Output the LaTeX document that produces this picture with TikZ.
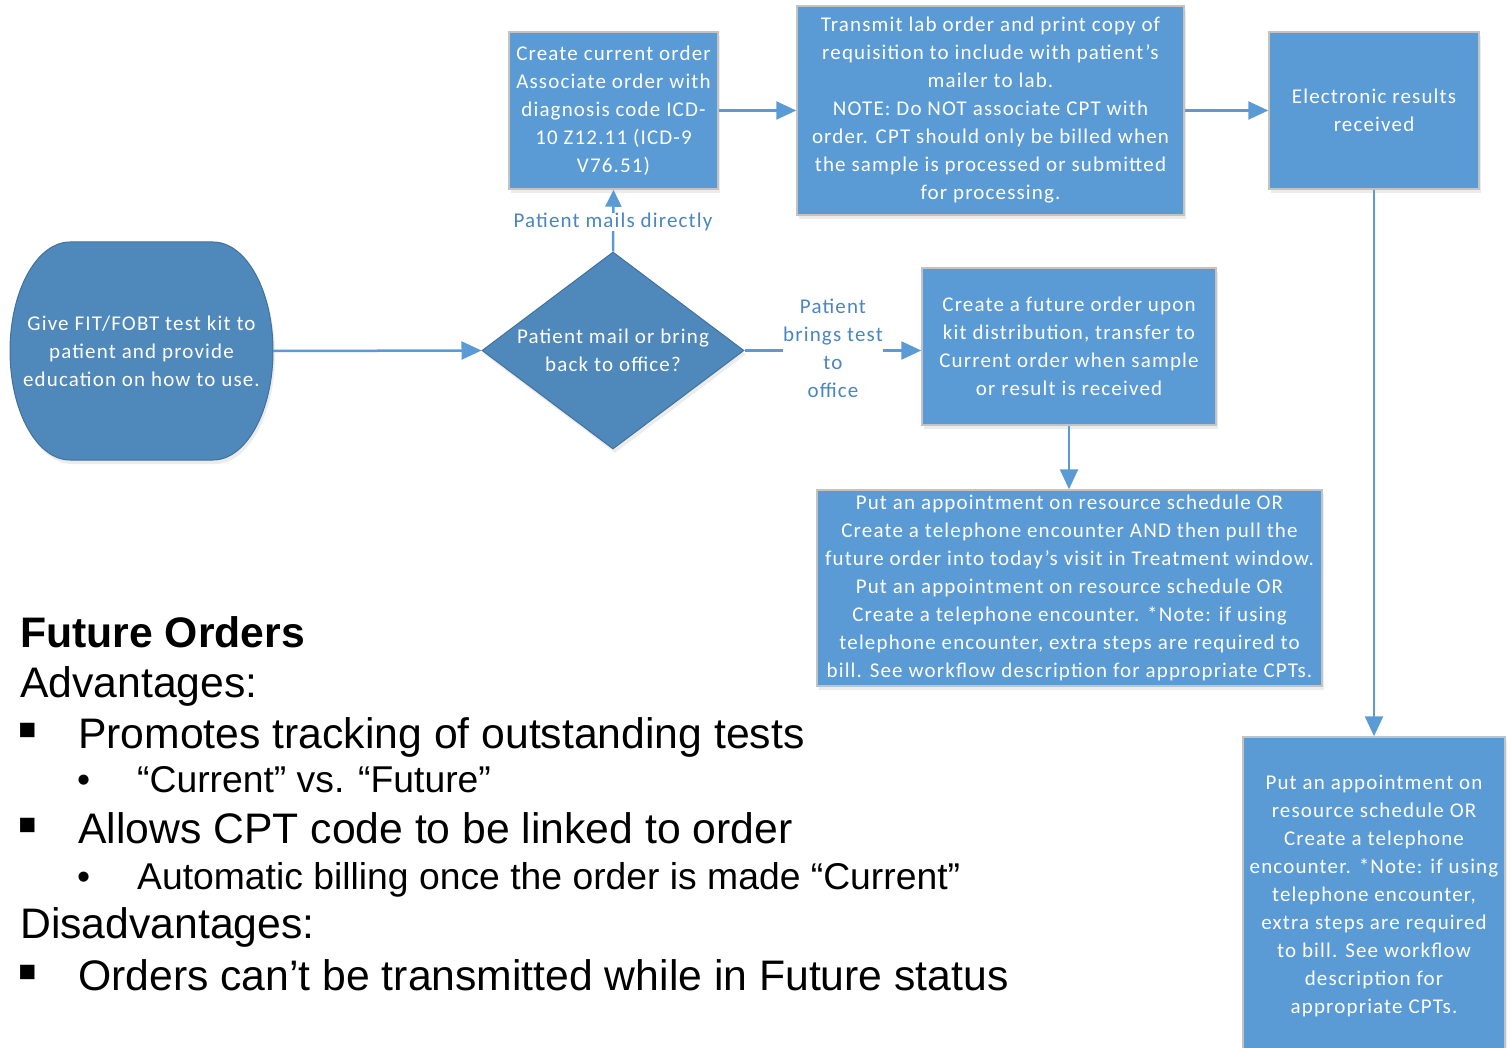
\documentclass[tikz,border=0pt]{standalone}
\usepackage{fontspec}
\setmainfont{Carlito}[LetterSpace=5.5]
\newfontfamily\arialfont{Liberation Sans}
\usetikzlibrary{arrows.meta,shapes.geometric,shadows}
\definecolor{boxblue}{HTML}{5B9BD5}
\definecolor{darkblue}{HTML}{4F88BB}
\definecolor{darkedge}{HTML}{41719C}
\definecolor{boxedge}{HTML}{C3C3C3}
\definecolor{linkblue}{HTML}{5B9BD5}
\definecolor{labelblue}{HTML}{4A86C0}
\tikzset{
  procbox/.style={rectangle, fill=boxblue, draw=boxedge, line width=1.5pt, text=white,
    align=center, font=\fontsize{21}{28}\selectfont, inner sep=0pt,
    drop shadow={opacity=0.15, shadow xshift=2pt, shadow yshift=-4pt}},
  decision/.style={diamond, fill=darkblue, draw=darkedge, line width=1pt, inner sep=0pt,
    minimum width=262pt, minimum height=197pt,
    drop shadow={opacity=0.15, shadow xshift=2pt, shadow yshift=-4pt}},
  whitetext/.style={text=white, align=center, inner sep=0pt, font=\fontsize{21}{28}\selectfont},
  flow/.style={draw=linkblue, line width=2.5pt, -{Triangle[length=20pt,width=18pt]}},
  smallflow/.style={draw=linkblue, line width=2.5pt, -{Triangle[length=17pt,width=16pt]}},
  flowlabel/.style={fill=white, text=labelblue, align=center, inner sep=0.5pt,
    font=\fontsize{21}{28}\selectfont},
  bodytext/.style={anchor=base west, inner sep=0pt, font=\arialfont\fontsize{42.7}{48}\selectfont},
  subtext/.style={anchor=base west, inner sep=0pt, font=\arialfont\fontsize{37.3}{42}\selectfont},
  sqbullet/.style={anchor=base west, inner sep=0pt, font=\arialfont\fontsize{58}{58}\selectfont},
}
\begin{document}
\begin{tikzpicture}[x=1pt,y=-1pt]
\useasboundingbox (0,0) rectangle (1507,1048);

% start oval
\path[fill=darkblue, draw=darkedge, line width=1pt,
  drop shadow={opacity=0.15, shadow xshift=2pt, shadow yshift=-4pt}]
  (70,242) -- (213,242)
  .. controls (246.1,242) and (273,290.8) .. (273,351)
  .. controls (273,411.2) and (246.1,460) .. (213,460)
  -- (70,460)
  .. controls (36.9,460) and (10,411.2) .. (10,351)
  .. controls (10,290.8) and (36.9,242) .. (70,242) -- cycle;
\node[whitetext, minimum width=263pt, minimum height=218pt] (start) at (141.5,351)
  {Give FIT/FOBT test kit to\\patient and provide\\education on how to use.};

% decision
\node[decision] (dia) at (613,350.5) {};
\node[whitetext] (diatext) at (dia.center) {Patient mail or bring\\back to office?};

% process boxes
\node[procbox, minimum width=209pt, minimum height=157pt] (A) at (613.5,110.5)
  {Create current order\\Associate order with\\diagnosis code ICD-\\10 Z12.11 (ICD-9\\V76.51)};
\node[procbox, minimum width=387pt, minimum height=209pt] (B) at (990.5,110.5)
  {Transmit lab order and print copy of\\requisition to include with patient’s\\mailer to lab.\\NOTE: Do NOT associate CPT with\\order. CPT should only be billed when\\the sample is processed or submitted\\for processing.};
\node[procbox, minimum width=210pt, minimum height=157pt] (C) at (1374,110.5)
  {Electronic results\\received};
\node[procbox, minimum width=294pt, minimum height=157pt] (D) at (1069,346.5)
  {Create a future order upon\\kit distribution, transfer to\\Current order when sample\\or result is received};
\node[procbox, minimum width=505pt, minimum height=196pt] (E) at (1069.5,588)
  {Put an appointment on resource schedule OR\\Create a telephone encounter AND  then pull the\\future order into today’s visit in Treatment window.\\Put an appointment on resource schedule OR\\Create a telephone encounter. *Note: if using\\telephone encounter, extra steps are required to\\bill. See workflow description for appropriate CPTs.};
\node[procbox, minimum width=262pt, minimum height=318pt] (F) at (1374,896)
  {Put an appointment on\\resource schedule OR\\Create a telephone\\encounter. *Note: if using\\telephone encounter,\\extra steps are required\\to bill. See workflow\\description for\\appropriate CPTs.};

% connectors
\draw[flow] (start.east) -- (dia.west);
\draw[smallflow] (dia.north) -- (A.south);
\node[flowlabel] (lab1) at (613,222) {Patient mails directly};
\draw[flow] (dia.east) -- (dia.east -| D.west);
\node[flowlabel] (lab2) at (833,348) {Patient\\brings test\\to\\office};
\draw[flow] (A.east) -- (B.west);
\draw[flow] (B.east) -- (C.west);
\draw[flow] (D.south) -- (D.south |- E.north);
\draw[flow] (C.south) -- (F.north);

% text block
\node[bodytext, font=\arialfont\bfseries\fontsize{42.7}{48}\selectfont] (fo) at (20,647) {Future Orders};
\node[bodytext] (adv) at (20,697) {Advantages:};
\node[sqbullet] (b1) at (17,748) {▪};
\node[bodytext] (t1) at (78,748) {Promotes tracking of outstanding tests};
\node[subtext] (b2) at (77,792) {•};
\node[subtext] (t2) at (137,792) {“Current” vs. “Future”};
\node[sqbullet] (b3) at (17,843) {▪};
\node[bodytext] (t3) at (78,843) {Allows CPT code to be linked to order};
\node[subtext] (b4) at (77,889) {•};
\node[subtext] (t4) at (137,889) {Automatic billing once the order is made “Current”};
\node[bodytext] (dis) at (20,938) {Disadvantages:};
\node[sqbullet] (b5) at (17,990) {▪};
\node[bodytext] (t5) at (78,990) {Orders can’t be transmitted while in Future status};
\end{tikzpicture}
\end{document}
